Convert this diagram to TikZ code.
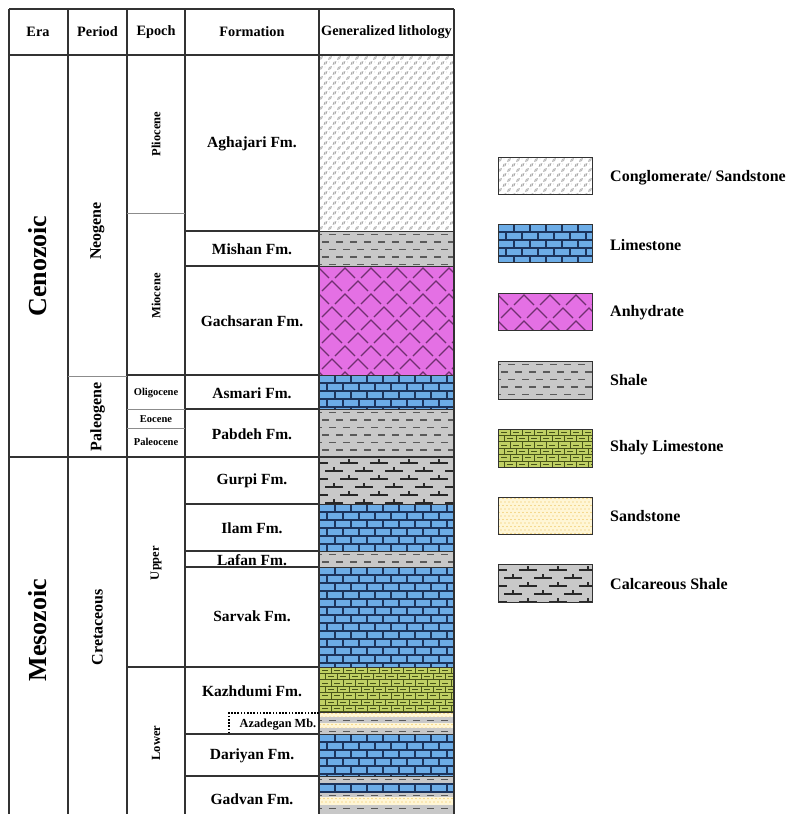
\documentclass[tikz,border=0pt]{standalone}
\usepackage{fontspec}
\setmainfont{Liberation Serif}
\definecolor{limefill}{RGB}{108,172,230}
\definecolor{limeline}{RGB}{28,52,92}
\definecolor{shalefill}{RGB}{200,200,200}
\definecolor{shaledash}{RGB}{90,90,90}
\definecolor{anhyfill}{RGB}{228,112,228}
\definecolor{anhyline}{RGB}{112,48,112}
\definecolor{congmark}{RGB}{160,160,160}
\definecolor{slfill}{RGB}{192,208,100}
\definecolor{slline}{RGB}{72,84,24}
\definecolor{sandfill}{RGB}{255,246,214}
\definecolor{sanddot}{RGB}{236,188,72}
\definecolor{calcline}{RGB}{40,40,40}
\definecolor{gridline}{RGB}{50,50,50}
\definecolor{softline}{RGB}{140,140,140}

\newcommand\litLime[4]{%
  \begin{scope}
    \clip (#1,#2) rectangle (#3,#4);
    \fill[limefill] (#1,#2) rectangle (#3,#4);
    \pgfmathtruncatemacro\nrows{(#4-#2)/8}
    \pgfmathtruncatemacro\ncols{(#3-#1)/16+1}
    \foreach \i in {0,...,\nrows}{%
      \draw[limeline,line width=1.1pt] (#1,#2+\i*8) -- (#3,#2+\i*8);
      \pgfmathsetmacro\off{mod(\i,2)*8}
      \foreach \j in {0,...,\ncols}{%
        \draw[limeline,line width=1.1pt] (#1+\off+\j*16,#2+\i*8) -- ++(0,8);
      }
    }
  \end{scope}}

\newcommand\litShLime[4]{%
  \begin{scope}
    \clip (#1,#2) rectangle (#3,#4);
    \fill[slfill] (#1,#2) rectangle (#3,#4);
    \pgfmathtruncatemacro\nrows{(#4-#2)/6.4}
    \pgfmathtruncatemacro\ncols{(#3-#1)/12+1}
    \foreach \i in {0,...,\nrows}{%
      \draw[slline,line width=1pt] (#1,#2+\i*6.4) -- (#3,#2+\i*6.4);
      \pgfmathsetmacro\off{mod(\i,2)*6}
      \foreach \j in {0,...,\ncols}{%
        \draw[slline,line width=1pt] (#1+\off+\j*12,#2+\i*6.4) -- ++(0,6.4);
        \draw[slline,line width=0.7pt] (#1+\off+\j*12+3,#2+\i*6.4+3.2) -- ++(6,0);
      }
    }
  \end{scope}}

\newcommand\litShale[4]{%
  \begin{scope}
    \clip (#1,#2) rectangle (#3,#4);
    \fill[shalefill] (#1,#2) rectangle (#3,#4);
    \pgfmathtruncatemacro\nrows{(#4-#2)/7.5}
    \pgfmathtruncatemacro\ncols{(#3-#1)/14+1}
    \foreach \i in {0,...,\nrows}{%
      \pgfmathsetmacro\off{mod(\i,2)*7}
      \foreach \j in {0,...,\ncols}{%
        \draw[shaledash,line width=1.2pt] (#1+\off+\j*14-4,#2+3.5+\i*7.5) -- ++(7,0);
      }
    }
  \end{scope}}

\newcommand\litCong[4]{%
  \begin{scope}
    \clip (#1,#2) rectangle (#3,#4);
    \fill[white] (#1,#2) rectangle (#3,#4);
    \pgfmathtruncatemacro\nrows{(#4-#2)/5+1}
    \pgfmathtruncatemacro\ncols{(#3-#1)/9+1}
    \foreach \i in {0,...,\nrows}{%
      \pgfmathsetmacro\off{mod(\i,2)*4.5}
      \foreach \j in {0,...,\ncols}{%
        \draw[congmark,line width=0.6pt,shift={(#1+\off+\j*9+2,#2+3+\i*5)},rotate=45] (0,0) ellipse (1.9pt and 1pt);
        \fill[congmark!70] (#1+\off+\j*9+6,#2+2+\i*5) circle (0.45pt);
      }
    }
  \end{scope}}

\newcommand\litAnhy[4]{%
  \begin{scope}
    \clip (#1,#2) rectangle (#3,#4);
    \fill[anhyfill] (#1,#2) rectangle (#3,#4);
    \pgfmathtruncatemacro\nrows{(#4-#2)/13+1}
    \pgfmathtruncatemacro\ncols{(#3-#1)/26+1}
    \foreach \i in {0,...,\nrows}{%
      \pgfmathsetmacro\off{mod(\i,2)*13}
      \foreach \j in {0,...,\ncols}{%
        \draw[anhyline,line width=1.3pt] (#1+\off+\j*26-10,#2+\i*13+12) -- ++(10,-10) -- ++(10,10);
      }
    }
  \end{scope}}

\newcommand\litCalc[4]{%
  \begin{scope}
    \clip (#1,#2) rectangle (#3,#4);
    \fill[shalefill] (#1,#2) rectangle (#3,#4);
    \pgfmathtruncatemacro\nrows{(#4-#2)/8+1}
    \pgfmathtruncatemacro\ncols{(#3-#1)/30+1}
    \foreach \i in {0,...,\nrows}{%
      \pgfmathsetmacro\off{mod(\i,2)*15}
      \foreach \j in {0,...,\ncols}{%
        \draw[calcline,line width=1.1pt] (#1+\off+\j*30-9,#2+\i*8+6) -- ++(18,0)
          (#1+\off+\j*30,#2+\i*8+6) -- ++(0,-4);
      }
    }
  \end{scope}}

\newcommand\litSand[4]{%
  \begin{scope}
    \clip (#1,#2) rectangle (#3,#4);
    \fill[sandfill] (#1,#2) rectangle (#3,#4);
    \pgfmathtruncatemacro\nrows{(#4-#2)/3.5+1}
    \pgfmathtruncatemacro\ncols{(#3-#1)/4+1}
    \foreach \i in {0,...,\nrows}{%
      \pgfmathsetmacro\off{mod(\i,2)*2}
      \foreach \j in {0,...,\ncols}{%
        \fill[sanddot] (#1+\off+\j*4+1,#2+\i*3.5+1.5) circle (0.6pt);
      }
    }
  \end{scope}}

\tikzset{
  tline/.style={draw=gridline,line width=1.1pt},
  sline/.style={draw=softline,line width=0.9pt},
  lline/.style={draw=gridline,line width=0.7pt},
  hdr/.style={font=\bfseries\fontsize{14.3}{16}\selectfont,inner sep=0pt},
  fm/.style={font=\bfseries\fontsize{15.5}{18}\selectfont,inner sep=0pt},
  erat/.style={font=\bfseries\fontsize{26}{30}\selectfont,inner sep=0pt,rotate=90},
  pert/.style={font=\bfseries\fontsize{16}{19}\selectfont,inner sep=0pt,rotate=90},
  ept/.style={font=\bfseries\fontsize{12.5}{15}\selectfont,inner sep=0pt,rotate=90},
  eps/.style={font=\bfseries\fontsize{10.5}{12}\selectfont,inner sep=0pt},
  mbt/.style={font=\bfseries\fontsize{12.3}{14}\selectfont,inner sep=0pt},
  leg/.style={font=\bfseries\fontsize{16}{19}\selectfont,inner sep=0pt,anchor=west},
  legbox/.style={draw=gridline,line width=0.9pt},
}

\begin{document}
\begin{tikzpicture}[x=1pt,y=-1pt]
\useasboundingbox[fill=white] (0,0) rectangle (790,814);

% ---------- lithology column ----------
\litCong{319}{55}{454}{231}
\litShale{319}{231}{454}{266}
\litAnhy{319}{266}{454}{375}
\litLime{319}{375}{454}{409}
\litShale{319}{409}{454}{457}
\litCalc{319}{457}{454}{504}
\litLime{319}{504}{454}{551}
\litShale{319}{551}{454}{567}
\litLime{319}{567}{454}{667}
\litShLime{319}{667}{454}{712}
\litSand{319}{712}{454}{717}
\litShale{319}{717}{454}{723}
\litSand{319}{723}{454}{728}
\litShale{319}{728}{454}{734}
\litLime{319}{734}{454}{776}
\litShale{319}{776}{454}{784}
\litLime{319}{784}{454}{792}
\litShale{319}{792}{454}{797}
\litSand{319}{797}{454}{805}
\litShale{319}{805}{454}{814}
\draw[limeline,line width=1.1pt] (319,784) rectangle (454,792);

% ---------- table lines ----------
\draw[tline] (9,9) -- (454,9);
\draw[tline] (9,55) -- (454,55);
\foreach \xx in {9,68,127,185,319,454}{\draw[tline] (\xx,9) -- (\xx,814);}
\draw[tline] (9,457) -- (454,457);
\draw[sline] (68,376) -- (127,376);
\draw[sline] (127,213) -- (185,213);
\draw[tline] (127,375) -- (185,375);
\draw[sline] (127,409) -- (185,409);
\draw[sline] (127,428) -- (185,428);
\draw[tline] (127,667) -- (185,667);
\foreach \yy in {231,266,375,409,504,551,567,667,734,776}{\draw[tline] (185,\yy) -- (319,\yy);}
\foreach \yy in {231,266,375,409,504,551,567,667,712,734,776}{\draw[lline] (319,\yy) -- (454,\yy);}
\draw[black,line width=1.4pt,dash pattern=on 1.6pt off 1.6pt] (319,713) -- (229,713) -- (229,734);

% ---------- header ----------
\node[hdr] (hEra) at (38,32) {Era};
\node[hdr] (hPer) at (97.5,32) {Period};
\node[hdr] (hEp) at (156,32) {Epoch};
\node[hdr] (hFm) at (252,32) {Formation};
\node[hdr] (hLi) at (386.5,32) {Generalized lithology};

% ---------- eras / periods / epochs ----------
\node[erat] (eCen) at (38,266) {Cenozoic};
\node[erat] (eMes) at (38,630) {Mesozoic};
\node[pert] (pNeo) at (97.5,231) {Neogene};
\node[pert] (pPal) at (97.5,417) {Paleogene};
\node[pert] (pCre) at (97.5,627) {Cretaceous};
\node[ept] (epPli) at (156,134) {Pliocene};
\node[ept] (epMio) at (156,296) {Miocene};
\node[eps] (epOli) at (156,393) {Oligocene};
\node[eps] (epEoc) at (156,419) {Eocene};
\node[eps] (epPal) at (156,442) {Paleocene};
\node[ept] (epUp) at (156,563) {Upper};
\node[ept] (epLo) at (156,743) {Lower};

% ---------- formations ----------
\node[fm] (fAgh) at (252,144) {Aghajari Fm.};
\node[fm] (fMis) at (252,249) {Mishan Fm.};
\node[fm] (fGac) at (252,321) {Gachsaran Fm.};
\node[fm] (fAsm) at (252,393) {Asmari Fm.};
\node[fm] (fPab) at (252,434) {Pabdeh Fm.};
\node[fm] (fGur) at (252,481) {Gurpi Fm.};
\node[fm] (fIla) at (252,528) {Ilam Fm.};
\node[fm] (fLaf) at (252,560) {Lafan Fm.};
\node[fm] (fSar) at (252,616) {Sarvak Fm.};
\node[fm] (fKaz) at (252,691) {Kazhdumi Fm.};
\node[mbt] (fAza) at (278,725) {Azadegan Mb.};
\node[fm] (fDar) at (252,756) {Dariyan Fm.};
\node[fm] (fGad) at (252,799) {Gadvan Fm.};

% ---------- legend ----------
\litCong{498}{157}{592}{194}
\draw[legbox] (498,157) rectangle (592,194);
\litLime{498}{224}{592}{262}
\draw[legbox] (498,224) rectangle (592,262);
\litAnhy{498}{293}{592}{330}
\draw[legbox] (498,293) rectangle (592,330);
\litShale{498}{361}{592}{399}
\draw[legbox] (498,361) rectangle (592,399);
\litShLime{498}{429}{592}{467}
\draw[legbox] (498,429) rectangle (592,467);
\litSand{498}{497}{592}{534}
\draw[legbox] (498,497) rectangle (592,534);
\litCalc{498}{564}{592}{602}
\draw[legbox] (498,564) rectangle (592,602);

\node[leg] (lCong) at (610,178) {Conglomerate/ Sandstone};
\node[leg] (lLime) at (610,245) {Limestone};
\node[leg] (lAnhy) at (610,313) {Anhydrate};
\node[leg] (lShale) at (610,380) {Shale};
\node[leg] (lShLime) at (610,448) {Shaly Limestone};
\node[leg] (lSand) at (610,516) {Sandstone};
\node[leg] (lCalc) at (610,584) {Calcareous Shale};
\end{tikzpicture}
\end{document}
